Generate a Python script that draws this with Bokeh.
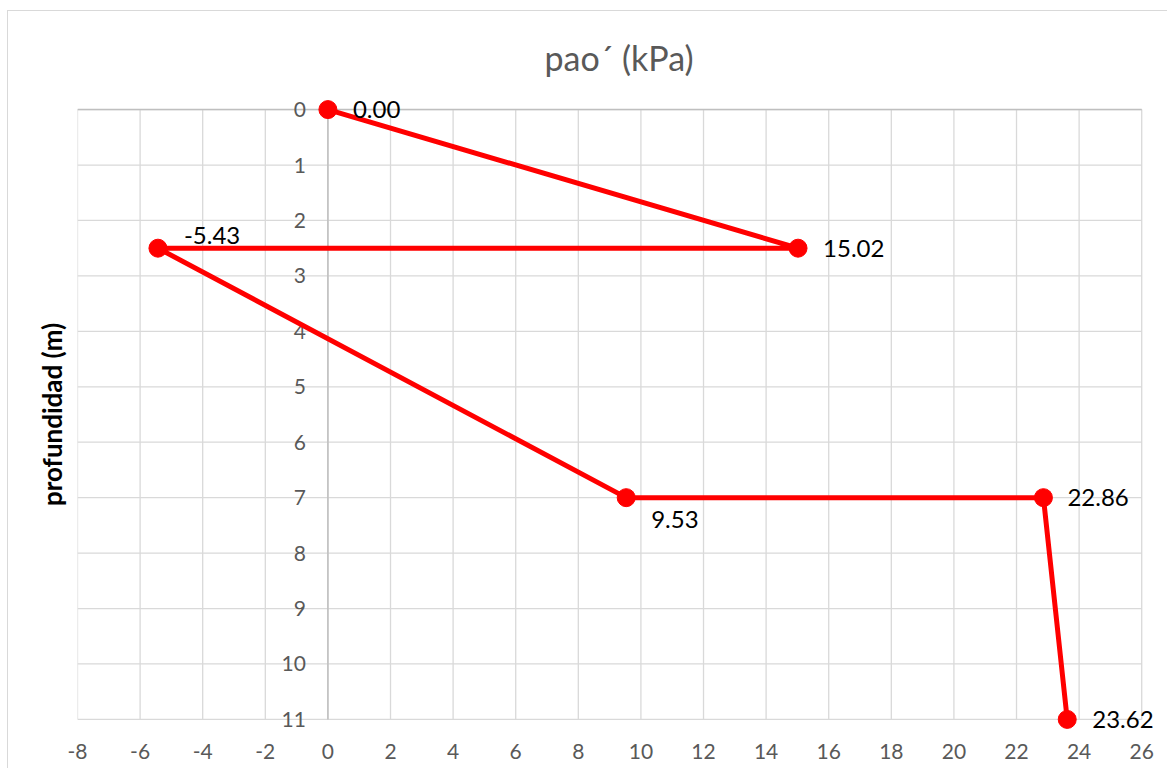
from bokeh.plotting import figure
from bokeh.models import ColumnDataSource, FixedTicker, Title, Range1d
from bokeh.core.properties import value
from bokeh.embed import file_html
from bokeh.resources import INLINE

# ---- data ----
pressure = [0.00, 15.02, -5.43, 9.53, 22.86, 23.62]
depth = [0.0, 2.5, 2.5, 7.0, 7.0, 11.0]
point_labels = ["0.00", "15.02", "-5.43", "9.53", "22.86", "23.62"]
x_ticks = [-8, -6, -4, -2, 0, 2, 4, 6, 8, 10, 12, 14, 16, 18, 20, 22, 24, 26]
x_tick_labels = [str(v) for v in x_ticks]
y_ticks = [0, 1, 2, 3, 4, 5, 6, 7, 8, 9, 10, 11]
y_tick_labels = [str(v) for v in y_ticks]
title_text = "pao´ (kPa)"
y_title = "profundidad (m)"

# label placement (styles)
label_dx = [25, 25, 26, 25, 24, 25]
label_dy = [0, 0, -13, 22, 0, 0]

FONT = "Lato"
RED = "#ff0000"
GRID = "#d9d9d9"

x_lo, x_hi = x_ticks[0], x_ticks[-1]
y_lo, y_hi = y_ticks[0], y_ticks[-1]

p = figure(width=1160, height=758, output_backend="svg", toolbar_location=None,
           x_range=Range1d(x_lo, x_hi + 0.6), y_range=Range1d(y_hi + 0.2, y_lo - 0.2),
           min_border_left=69, min_border_right=8, min_border_bottom=39,
           min_border_top=87, title=None)
p.outline_line_color = None
p.background_fill_color = "white"
p.border_fill_color = "white"
p.styles = {"border-left": "1px solid #d9d9d9", "border-top": "1px solid #d9d9d9",
            "margin-left": "7px", "margin-top": "10px"}

t = Title(text=title_text, align="center", text_font=FONT, text_font_size="34px",
          text_color="#595959", text_font_style="normal", standoff=42)
p.add_layout(t, "above")

# built-in grids off, draw bounded grid lines from the tick lists
p.xgrid.grid_line_color = None
p.ygrid.grid_line_color = None
p.segment(x0=x_ticks, y0=[y_lo] * len(x_ticks), x1=x_ticks, y1=[y_hi] * len(x_ticks),
          line_color=GRID, line_width=1.3)
p.segment(x0=[x_lo] * len(y_ticks), y0=y_ticks, x1=[x_hi] * len(y_ticks), y1=y_ticks,
          line_color=GRID, line_width=1.3)

# axis lines crossing at 0
p.segment(x0=[0], y0=[y_lo], x1=[0], y1=[y_hi], line_color="#bfbfbf", line_width=1.5)
p.segment(x0=[x_lo], y0=[0], x1=[x_hi], y1=[0], line_color="#bfbfbf", line_width=1.5)

# x axis
p.xaxis.ticker = FixedTicker(ticks=x_ticks)
p.xaxis.major_label_overrides = dict(zip(x_ticks, x_tick_labels))
p.xaxis.axis_line_color = None
p.xaxis.major_tick_line_color = None
p.xaxis.minor_tick_line_color = None
p.xaxis.major_label_standoff = 7
p.xaxis.major_label_text_font = FONT
p.xaxis.major_label_text_font_size = "21px"
p.xaxis.major_label_text_color = "#595959"

# y axis: only the title on the left
p.yaxis.ticker = FixedTicker(ticks=[])
p.yaxis.axis_line_color = None
p.yaxis.major_tick_line_color = None
p.yaxis.minor_tick_line_color = None
p.yaxis.axis_label = y_title
p.yaxis.axis_label_text_font = FONT
p.yaxis.axis_label_text_font_size = "26px"
p.yaxis.axis_label_text_font_style = "bold"
p.yaxis.axis_label_text_color = "#000000"
p.yaxis.axis_label_standoff = 10

# y tick labels along x = 0
ysrc = ColumnDataSource(dict(x=[0] * len(y_ticks), y=y_ticks, t=y_tick_labels))
p.text(x="x", y="y", text="t", source=ysrc, x_offset=-22, text_align="right",
       text_baseline="middle", text_font=value(FONT), text_font_size="21px",
       text_color="#595959")

src = ColumnDataSource(dict(x=pressure, y=depth, t=point_labels, dx=label_dx, dy=label_dy))
p.line(x="x", y="y", source=src, line_color=RED, line_width=5)
p.scatter(x="x", y="y", source=src, size=18, fill_color=RED, line_color=RED)
p.text(x="x", y="y", text="t", source=src, x_offset="dx", y_offset="dy",
       text_align="left", text_baseline="middle", text_font=value(FONT),
       text_font_size="24px", text_color="#000000")

open("out.html", "w").write(file_html(p, INLINE))
